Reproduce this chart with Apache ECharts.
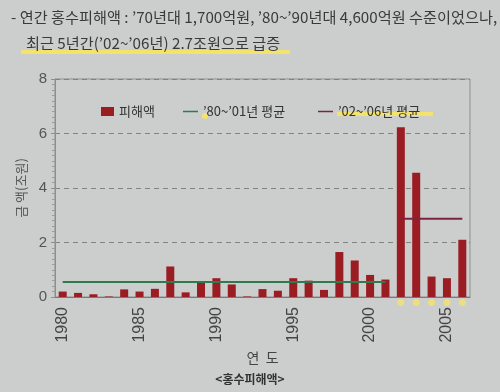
<!DOCTYPE html>
<html><head><meta charset="utf-8">
<script src="https://cdn.jsdelivr.net/npm/echarts@6/dist/echarts.min.js"></script>
<style>html,body{margin:0;padding:0;background:#cbcecc;}#c{width:500px;height:392px;}</style>
</head><body><div id="c"></div>
<script>
const years = ['1980','1981','1982','1983','1984','1985','1986','1987','1988','1989','1990','1991','1992','1993','1994','1995','1996','1997','1998','1999','2000','2001','2002','2003','2004','2005','2006'];
const damage = [0.2,0.15,0.1,0.02,0.28,0.2,0.3,1.12,0.17,0.56,0.69,0.46,0.02,0.29,0.23,0.69,0.6,0.26,1.65,1.34,0.81,0.64,6.23,4.56,0.75,0.69,2.1];
const avg8001 = [0.55,0.55,0.55,0.55,0.55,0.55,0.55,0.55,0.55,0.55,0.55,0.55,0.55,0.55,0.55,0.55,0.55,0.55,0.55,0.55,0.55,0.55,null,null,null,null,null];
const avg0206 = [null,null,null,null,null,null,null,null,null,null,null,null,null,null,null,null,null,null,null,null,null,null,2.87,2.87,2.87,2.87,2.87];
const markedYears = ['2002','2003','2004','2005','2006'];
const yTicks = [0,2,4,6,8];
const F = '"Noto Sans CJK KR","Noto Sans",sans-serif';
const LINEICON = 'path://M0,0L20,0L20,2L0,2Z';
const chart = echarts.init(document.getElementById('c'));
chart.setOption({
  backgroundColor:'#cbcecc',
  animation:false,
  title:[
    {text:"- 연간 홍수피해액 : ’70년대 1,700억원, ’80~’90년대 4,600억원 수준이었으나,", left:6, top:5, textStyle:{fontFamily:F,fontSize:15.2,fontWeight:'normal',color:'#3a3a3a'}},
    {text:"최근 5년간(’02~’06년) 2.7조원으로 급증", left:21, top:31, textStyle:{fontFamily:F,fontSize:15.2,fontWeight:'normal',color:'#3a3a3a'}},
    {text:"<홍수피해액>", left:'center', top:368, textStyle:{fontFamily:F,fontSize:12,fontWeight:'bold',color:'#333'}}
  ],
  graphic:[
    {type:'rect', shape:{x:21,y:50,width:269,height:4}, style:{fill:'#f4e36b'}, z:-1},
    {type:'rect', shape:{x:337,y:112,width:96,height:4}, style:{fill:'#f4e36b'}, z:-1},
    {type:'circle', shape:{cx:205,cy:116,r:3}, style:{fill:'#f4e36b'}},
    {type:'rect', shape:{x:55,y:79,width:415,height:218}, style:{fill:'none',stroke:'#8c8f8e',lineWidth:1}, silent:true}
  ],
  grid:{left:55,right:30,top:79,bottom:95},
  legend:[
    {data:[{name:'피해액',icon:'rect'}], left:96, top:100, itemWidth:13, itemHeight:9, itemGap:4, textStyle:{fontFamily:F,fontSize:13,color:'#333'}},
    {data:[{name:'’80~’01년 평균',icon:LINEICON}], left:178, top:100, itemWidth:15, itemHeight:2, textStyle:{fontFamily:F,fontSize:13,color:'#333'}},
    {data:[{name:'’02~’06년 평균',icon:LINEICON}], left:313, top:100, itemWidth:15, itemHeight:2, textStyle:{fontFamily:F,fontSize:13,color:'#333'}}
  ],
  xAxis:{type:'category', data:years, boundaryGap:true,
    name:'연  도', nameLocation:'middle', nameGap:51, nameTextStyle:{fontFamily:F,fontSize:14,color:'#444'},
    axisLine:{lineStyle:{color:'#6f7a8a',width:1}},
    axisTick:{inside:true,length:5,interval:0,lineStyle:{color:'#8a90a8'}},
    axisLabel:{rotate:90, margin:10, fontFamily:'"Liberation Sans",Arial,sans-serif', fontSize:16, color:'#444',
      interval:function(i,v){return (+v)%5===0;}}
  },
  yAxis:{type:'value', min:yTicks[0], max:yTicks[yTicks.length-1], interval:2,
    name:'금 액(조원)', nameLocation:'middle', nameRotate:90, nameGap:27, nameTextStyle:{fontFamily:F,fontSize:13,color:'#555'},
    axisLine:{show:true,lineStyle:{color:'#8c8f8e'}},
    axisTick:{show:true,length:4,lineStyle:{color:'#8c8f8e'}},
    minorTick:{show:true,splitNumber:10,length:3,lineStyle:{color:'#9a9d9c'}},
    axisLabel:{fontFamily:'"Liberation Sans",Arial,sans-serif', fontSize:15, color:'#555', margin:8},
    splitLine:{show:true,lineStyle:{color:'#7f8483',type:[5,4],width:1}}
  },
  series:[
    {name:'피해액', type:'bar', data:damage, barWidth:8, itemStyle:{color:'#9a1d24'}, z:2},
    {name:'’80~’01년 평균', type:'line', data:avg8001, symbol:'none', lineStyle:{color:'#2f7a4e',width:2}, itemStyle:{color:'#2f7a4e'}, z:3},
    {name:'’02~’06년 평균', type:'line', data:avg0206, symbol:'none', lineStyle:{color:'#7e2340',width:2}, itemStyle:{color:'#7e2340'}, z:3},
    {name:'marks', type:'scatter', data:markedYears.map(function(y){return [y,-0.2];}), clip:false, symbol:'circle', symbolSize:7, itemStyle:{color:'#f4e36b'}, z:4}
  ]
});
</script></body></html>
